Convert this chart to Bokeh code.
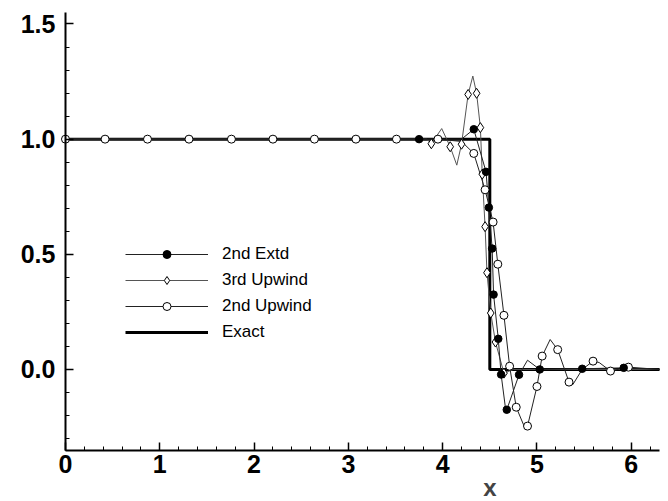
import numpy as np
from bokeh.plotting import figure
from bokeh.models import (Range1d, SingleIntervalTicker, PrintfTickFormatter,
                          Legend, LegendItem, Label)
from bokeh.embed import file_html
from bokeh.resources import INLINE

# ---------------- data ----------------
exact_x = [0.0, 4.5, 4.5, 6.3]
exact_y = [1.0, 1.0, 0.0, 0.0]

# 2nd Upwind (open circles)
up2_line_x = [0.0, 0.42, 0.87, 1.31, 1.76, 2.2, 2.64, 3.08, 3.51, 3.95, 4.2, 4.33,
              4.45, 4.535, 4.585, 4.65, 4.71, 4.78, 4.88, 4.90, 5.0, 5.055, 5.14,
              5.22, 5.34, 5.38, 5.48, 5.595, 5.66, 5.78, 5.97, 6.3]
up2_line_y = [1.0, 1.0, 1.0, 1.0, 1.0, 1.0, 1.0, 1.0, 1.0, 1.0, 0.99, 0.938,
              0.78, 0.64, 0.457, 0.235, 0.014, -0.164, -0.262, -0.246, -0.074, 0.058, 0.13,
              0.086, -0.055, -0.066, 0.0, 0.036, 0.03, -0.007, 0.01, 0.0]
up2_pts_x = [0.0, 0.42, 0.87, 1.31, 1.76, 2.2, 2.64, 3.08, 3.51, 3.95, 4.33, 4.45,
             4.535, 4.585, 4.65, 4.71, 4.78, 4.90, 5.0, 5.055, 5.22, 5.34, 5.595, 5.78, 5.97]
up2_pts_y = [1.0, 1.0, 1.0, 1.0, 1.0, 1.0, 1.0, 1.0, 1.0, 1.0, 0.938, 0.78,
             0.64, 0.457, 0.235, 0.014, -0.164, -0.246, -0.074, 0.058, 0.086, -0.055, 0.036, -0.007, 0.01]

# 2nd Extd (filled dots)
ext2_line_x = [0.0, 3.75, 4.2, 4.33, 4.46, 4.49, 4.525, 4.54, 4.59, 4.62, 4.67, 4.68,
               4.81, 4.90, 5.03, 5.48, 5.92, 6.3]
ext2_line_y = [1.0, 1.0, 1.0, 1.043, 0.858, 0.703, 0.525, 0.325, 0.133, -0.022, -0.18, -0.175,
               -0.023, 0.04, 0.0, 0.003, 0.007, 0.0]
ext2_pts_x = [3.75, 4.33, 4.46, 4.49, 4.525, 4.54, 4.59, 4.62, 4.68, 4.81, 5.03, 5.48, 5.92]
ext2_pts_y = [1.0, 1.043, 0.858, 0.703, 0.525, 0.325, 0.133, -0.022, -0.175, -0.023, 0.0, 0.003, 0.007]

# 3rd Upwind (diamonds)
up3_line_x = [0.0, 3.83, 3.88, 3.99, 4.08, 4.15, 4.2, 4.27, 4.32, 4.36, 4.40, 4.42,
              4.45, 4.47, 4.51, 4.56, 4.65, 4.75, 6.3]
up3_line_y = [1.0, 1.0, 0.98, 1.046, 0.967, 0.887, 0.978, 1.194, 1.274, 1.199, 1.05, 0.848,
              0.62, 0.42, 0.245, 0.119, -0.016, 0.0, 0.0]
up3_pts_x = [3.88, 4.08, 4.2, 4.27, 4.36, 4.40, 4.42, 4.45, 4.47, 4.51, 4.56, 4.65]
up3_pts_y = [0.98, 0.967, 0.978, 1.194, 1.199, 1.05, 0.848, 0.62, 0.42, 0.245, 0.119, -0.016]

x_major = 1.0
y_major = 0.5
x_axis_min, x_axis_max = 0.0, 6.3
y_axis_min, y_axis_max = -0.35, 1.55

# ---------------- figure ----------------
# The frame covers the whole canvas; both axes are placed at fixed data locations
p = figure(width=668, height=501, output_backend="svg", toolbar_location=None,
           x_range=Range1d(-0.689, 6.395), y_range=Range1d(-0.5734, 1.602),
           min_border_left=0, min_border_right=0, min_border_top=0, min_border_bottom=0)
p.outline_line_color = None
p.grid.visible = False
p.background_fill_color = "white"
p.border_fill_color = "white"

for ax in (p.xaxis[0], p.yaxis[0]):
    ax.axis_line_width = 2
    ax.axis_line_color = "black"
    ax.major_tick_in = 8
    ax.major_tick_out = 0
    ax.minor_tick_in = 4
    ax.minor_tick_out = 0
    ax.major_tick_line_width = 1.5
    ax.minor_tick_line_width = 1
    ax.major_label_text_font = "Liberation Sans"
    ax.major_label_text_font_style = "bold"
    ax.major_label_text_font_size = "25px"
    ax.major_label_text_color = "black"

p.xaxis.ticker = SingleIntervalTicker(interval=x_major, num_minor_ticks=5)
p.yaxis.ticker = SingleIntervalTicker(interval=y_major, num_minor_ticks=5)
p.xaxis.formatter = PrintfTickFormatter(format="%d")
p.yaxis.formatter = PrintfTickFormatter(format="%.1f")
p.xaxis.major_label_standoff = 5
p.yaxis.major_label_standoff = 10
p.xaxis.fixed_location = y_axis_min
p.yaxis.fixed_location = x_axis_min
p.xaxis.bounds = (x_axis_min, x_axis_max)
p.yaxis.bounds = (y_axis_min, y_axis_max)

r_exact = p.line(exact_x, exact_y, line_color="black", line_width=3)

r_up3_l = p.line(up3_line_x, up3_line_y, line_color="#555555", line_width=1)
r_up2_l = p.line(up2_line_x, up2_line_y, line_color="#222222", line_width=1)
r_ext_l = p.line(ext2_line_x, ext2_line_y, line_color="#222222", line_width=1)

r_up3_p = p.scatter(up3_pts_x, up3_pts_y, marker="diamond", size=10,
                    fill_color="white", line_color="black", line_width=1)
r_up2_p = p.scatter(up2_pts_x, up2_pts_y, marker="circle", size=8,
                    fill_color="white", line_color="black", line_width=1)
r_ext_p = p.scatter(ext2_pts_x, ext2_pts_y, marker="circle", size=7.5,
                    fill_color="black", line_color="black", line_width=1)

legend = Legend(items=[
    LegendItem(label="2nd Extd", renderers=[r_ext_l, r_ext_p]),
    LegendItem(label="3rd Upwind", renderers=[r_up3_l, r_up3_p]),
    LegendItem(label="2nd Upwind", renderers=[r_up2_l, r_up2_p]),
    LegendItem(label="Exact", renderers=[r_exact]),
], location=(125, 159), glyph_width=83, glyph_height=20, label_height=20, spacing=6,
    padding=0, margin=0, label_standoff=14, label_text_font="Liberation Sans",
    label_text_font_size="17px", label_text_color="black",
    border_line_alpha=0, background_fill_alpha=0)
p.add_layout(legend)

p.add_layout(Label(x=4.5, y=-0.5128, text="x", text_font="Liberation Sans",
                   text_font_style="bold", text_font_size="24px",
                   text_align="center", text_baseline="middle"))

open("out.html", "w").write(file_html(p, INLINE))
